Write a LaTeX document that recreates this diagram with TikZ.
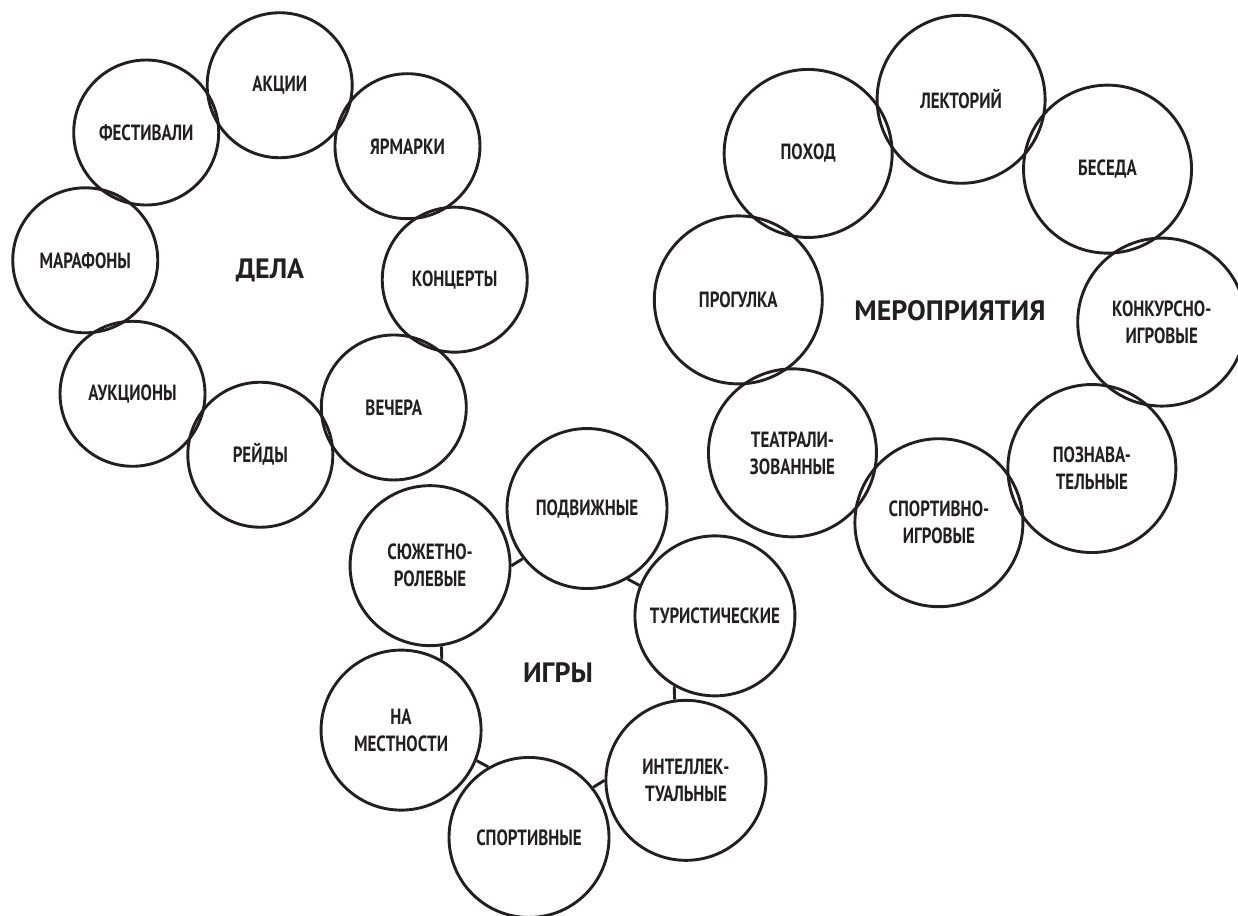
\documentclass[tikz,border=0pt]{standalone}
\usepackage{fontspec}
\newfontfamily\narrowfont[FakeStretch=0.77]{PT Sans}
\newfontfamily\headfont{PT Sans}
\definecolor{ink}{RGB}{35,31,32}
\begin{document}
\begin{tikzpicture}[x=1pt,y=1pt,
    bubble/.style={circle,draw=ink,line width=2.9pt,inner sep=0pt,align=center,text=ink,
      font=\narrowfont\bfseries\fontsize{22}{27}\selectfont},
    small/.style={bubble,minimum size=145pt},
    big/.style={bubble,minimum size=168pt},
    mid/.style={bubble,minimum size=160pt},
    title/.style={text=ink,font=\headfont\bfseries\fontsize{28}{30}\selectfont},
    link/.style={draw=ink,line width=2.9pt}]
  \useasboundingbox (0,0) rectangle (1238,915);
  % дела
  \node[title] (dela) at (270,645) {ДЕЛА};
  \node[small] (akcii) at ([shift={(87:185)}]dela.center) {АКЦИИ};
  \node[small] (jarmarki) at ([shift={(42:185)}]dela.center) {ЯРМАРКИ};
  \node[small] (koncerty) at ([shift={(-3:185)}]dela.center) {КОНЦЕРТЫ};
  \node[small] (vechera) at ([shift={(-48:185)}]dela.center) {ВЕЧЕРА};
  \node[small] (rejdy) at ([shift={(-93:185)}]dela.center) {РЕЙДЫ};
  \node[small] (aukciony) at ([shift={(-138:185)}]dela.center) {АУКЦИОНЫ};
  \node[small] (marafony) at ([shift={(177:185)}]dela.center) {МАРАФОНЫ};
  \node[small] (festivali) at ([shift={(132:185)}]dela.center) {ФЕСТИВАЛИ};
  % мероприятия
  \node[title] (merop) at (950,604) {МЕРОПРИЯТИЯ};
  \node[big] (lektorij) at ([shift={(87:212)}]merop.center) {ЛЕКТОРИЙ};
  \node[big] (beseda) at ([shift={(42:212)}]merop.center) {БЕСЕДА};
  \node[big] (konkurs) at ([shift={(-3:212)}]merop.center) {КОНКУРСНО-\\ИГРОВЫЕ};
  \node[big] (poznav) at ([shift={(-48:212)}]merop.center) {ПОЗНАВА-\\ТЕЛЬНЫЕ};
  \node[big] (sportigr) at ([shift={(-93:212)}]merop.center) {СПОРТИВНО-\\ИГРОВЫЕ};
  \node[big] (teatr) at ([shift={(-138:212)}]merop.center) {ТЕАТРАЛИ-\\ЗОВАННЫЕ};
  \node[big] (progulka) at ([shift={(177:212)}]merop.center) {ПРОГУЛКА};
  \node[big] (pohod) at ([shift={(132:212)}]merop.center) {ПОХОД};
  % игры
  \node[title] (igry) at (558,242) {ИГРЫ};
  \node[mid] (podv) at ([shift={(80:167)}]igry.center) {ПОДВИЖНЫЕ};
  \node[mid] (turist) at ([shift={(20:167)}]igry.center) {ТУРИСТИЧЕСКИЕ};
  \node[mid] (intel) at ([shift={(-40:167)}]igry.center) {ИНТЕЛЛЕК-\\ТУАЛЬНЫЕ};
  \node[mid] (sport) at ([shift={(-100:167)}]igry.center) {СПОРТИВНЫЕ};
  \node[mid] (mestn) at ([shift={(-160:167)}]igry.center) {НА\\МЕСТНОСТИ};
  \node[mid] (sjuzh) at ([shift={(140:167)}]igry.center) {СЮЖЕТНО-\\РОЛЕВЫЕ};
  \draw[link] (sjuzh.0) -- (podv.218);
  \draw[link] (podv.-60) -- (turist.158);
  \draw[link] (turist.-120) -- (intel.98);
  \draw[link] (intel.180) -- (sport.38);
  \draw[link] (sport.120) -- (mestn.-22);
  \draw[link] (mestn.60) -- (sjuzh.-82);
\end{tikzpicture}
\end{document}
